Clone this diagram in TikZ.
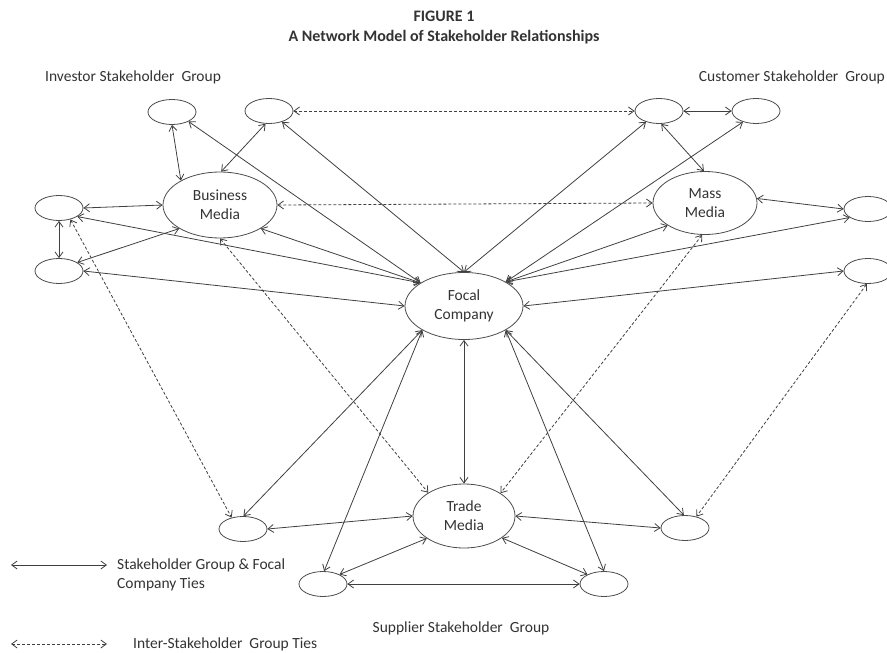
\documentclass[tikz,border=0pt]{standalone}
\usepackage{fontspec}
\setmainfont{Carlito}
\usetikzlibrary{shapes.geometric, arrows.meta}

\begin{document}
\begin{tikzpicture}[x=1pt, y=-1pt, font=\fontsize{15.5}{19}\selectfont]

	\tikzstyle{stake}=[ellipse, draw=black!70, line width=0.8pt, minimum width=48pt, minimum height=25pt, inner sep=0pt]
	\tikzstyle{media}=[ellipse, draw=black!70, line width=0.8pt, inner sep=0pt, align=center, text=black!80]
	\tikzstyle{label}=[text=black!80, inner sep=0pt]
	\tikzstyle{tie}=[{Straight Barb[length=5.5pt,width=8pt]}-{Straight Barb[length=5.5pt,width=8pt]}, line width=0.8pt, black!75]
	\tikzstyle{itie}=[tie, dash pattern=on 3pt off 2pt]

	\useasboundingbox (0,0) rectangle (887,653);

	% titre
	\node[label, font=\fontsize{16}{19}\selectfont\bfseries] (fig) at (444,16) {FIGURE 1};
	\node[label, font=\fontsize{16}{19}\selectfont\bfseries] (title) at (444,37) {A Network Model of Stakeholder Relationships};
	\node[label, anchor=west] (inv) at (45,77) {Investor Stakeholder\ \ Group};
	\node[label, anchor=east] (cus) at (885,77) {Customer Stakeholder\ \ Group};
	\node[label] (sup) at (461,628) {Supplier Stakeholder\ \ Group};

	% placement des noeuds
	\node[stake] (i1) at (172,112) {};
	\node[stake] (i2) at (269,111) {};
	\node[stake] (i3) at (59,208) {};
	\node[stake] (i4) at (59,271) {};
	\node[stake] (c1) at (659,111) {};
	\node[stake] (c2) at (756,111) {};
	\node[stake] (c3) at (868,209) {};
	\node[stake] (c4) at (868,271) {};
	\node[stake] (s1) at (243,529) {};
	\node[stake] (s2) at (685,528) {};
	\node[stake] (s3) at (323,584) {};
	\node[stake] (s4) at (604,584) {};

	\node[media, minimum width=114pt, minimum height=66pt] (bm) at (220,205) {Business\\Media};
	\node[media, minimum width=118pt, minimum height=67pt] (fc) at (464,306) {Focal\\Company};
	\node[media, minimum width=104pt, minimum height=63pt] (mm) at (705,203) {Mass\\Media};
	\node[media, minimum width=102pt, minimum height=64pt] (tm) at (464,516) {Trade\\Media};

	% investor group
	\draw[tie] (i1.270) -- (bm.148);
	\draw[tie] (i1.330) -- (fc.152);
	\draw[tie] (i2.255) -- (bm.88);
	\draw[tie] (i2.320) -- (fc.90);
	\draw[tie] (i3.0) -- (bm.180);
	\draw[tie] (i3.270) -- (i4.90);
	\draw[tie] (i3.335) -- (fc.152);
	\draw[tie] (i4.25) -- (bm.210);
	\draw[tie] (i4.0) -- (fc.180);
	\draw[tie] (bm.330) -- (fc.152);

	% customer group
	\draw[tie] (c1.0) -- (c2.180);
	\draw[tie] (c1.220) -- (fc.90);
	\draw[tie] (c1.280) -- (mm.92);
	\draw[tie] (c2.220) -- (fc.30);
	\draw[tie] (mm.211) -- (fc.30);
	\draw[tie] (mm.5) -- (c3.180);
	\draw[tie] (c3.205) -- (fc.30);
	\draw[tie] (c4.180) -- (fc.0);

	% supplier group
	\draw[tie] (fc.270) -- (tm.90);
	\draw[tie] (fc.210) -- (s1.88);
	\draw[tie] (fc.210) -- (s3.85);
	\draw[tie] (fc.330) -- (s2.95);
	\draw[tie] (fc.330) -- (s4.90);
	\draw[tie] (s1.0) -- (tm.180);
	\draw[tie] (tm.0) -- (s2.180);
	\draw[tie] (tm.211) -- (s3.30);
	\draw[tie] (tm.330) -- (s4.150);
	\draw[tie] (s3.0) -- (s4.180);

	% inter-group ties
	\draw[itie] (i2.0) -- (c1.180);
	\draw[itie] (bm.0) -- (mm.180);
	\draw[itie] (bm.270) -- (tm.147);
	\draw[itie] (mm.265) -- (tm.32);
	\draw[itie] (i3.315) -- (s1.135);
	\draw[itie] (c4.265) -- (s2.45);

	% legende
	\coordinate (l1a) at (11,565);
	\coordinate (l1b) at (107,565);
	\coordinate (l2a) at (11,644);
	\coordinate (l2b) at (107,644);
	\draw[tie] (l1a) -- (l1b);
	\draw[itie] (l2a) -- (l2b);
	\node[label, anchor=west, align=left] (leg1) at (117,575) {Stakeholder Group \& Focal\\Company Ties};
	\node[label, anchor=west] (leg2) at (133,644) {Inter-Stakeholder\ \ Group Ties};

\end{tikzpicture}
\end{document}
